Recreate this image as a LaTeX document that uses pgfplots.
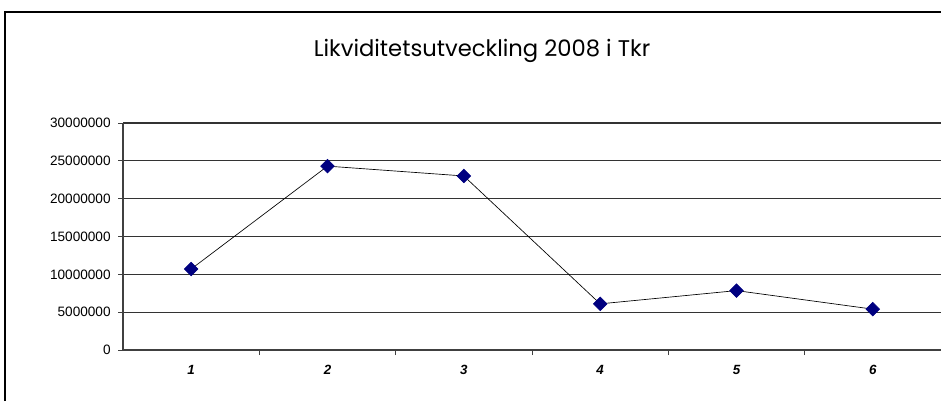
\documentclass[border=0pt]{standalone}
\usepackage{pgfplots}
\pgfplotsset{compat=1.18}
\usepackage{fontspec}
\setmainfont{Liberation Sans}
\newfontfamily\titlefont{Poppins}
\begin{document}
\begin{tikzpicture}[x=0.75pt,y=0.75pt]
\path[use as bounding box] (0,0) rectangle (941,401);
\draw[black, line width=1.1pt] (5,0) -- (5,389) -- (941,389);
\node[anchor=base, font=\titlefont\fontsize{17}{20}\selectfont] at (482,345) {Likviditetsutveckling 2008 i Tkr};
\begin{axis}[
  at={(92.25pt,38.25pt)}, anchor=south west,
  scale only axis, width=613.5pt, height=170.25pt,
  xmin=0.5, xmax=6.5, ymin=0, ymax=30000000,
  axis x line*=bottom, axis y line*=left,
  axis line style={-, draw=black!75, line width=0.8pt},
  scaled y ticks=false,
  xtick={1,2,3,4,5,6},
  xticklabels={1,2,3,4,5,6},
  minor xtick={1.5,2.5,3.5,4.5,5.5,6.5},
  major x tick style={draw=none},
  minor x tick style={draw=black!75, line width=0.6pt},
  ytick={0,5000000,10000000,15000000,20000000,25000000,30000000},
  yticklabels={0,5000000,10000000,15000000,20000000,25000000,30000000},
  tick align=outside,
  major tick length=3.75pt, minor tick length=3.75pt,
  y tick style={draw=black!75, line width=0.6pt},
  ymajorgrids,
  major grid style={draw=black!80, line width=0.8pt},
  xticklabel style={font=\fontsize{10}{11}\selectfont\bfseries\itshape, yshift=-4pt},
  yticklabel style={font=\fontsize{10.2}{11}\selectfont, xshift=-2pt},
  clip=false,
]
\addplot[black, line width=0.5pt, mark=square*, mark size=3.6pt,
  mark options={rotate=45, fill={rgb,255:red,0;green,0;blue,128}, draw={rgb,255:red,0;green,0;blue,128}}]
  coordinates {(1,10700000) (2,24300000) (3,23000000) (4,6100000) (5,7850000) (6,5400000)};
\end{axis}
\end{tikzpicture}
\end{document}
